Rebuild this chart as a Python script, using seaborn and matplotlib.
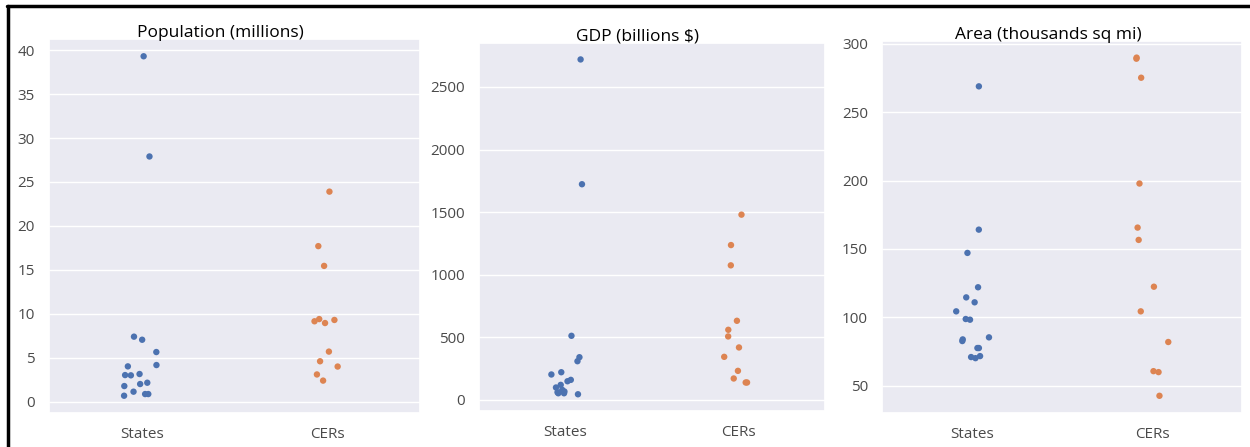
import numpy as np
import pandas as pd
import matplotlib
matplotlib.use("Agg")
import matplotlib.pyplot as plt
from matplotlib.lines import Line2D
import seaborn as sns

# Values per comparison group
groups = ["States", "CERs"]

pop_states = [39.3, 27.9, 7.4, 7.05, 5.65, 4.17, 4.02, 3.0, 3.03, 3.15,
              1.78, 2.01, 2.16, 1.14, 0.87, 0.87, 0.68]
pop_cers = [23.9, 17.7, 15.45, 9.4, 9.3, 8.95, 9.15, 5.7, 4.0, 4.6, 3.1, 2.4]

gdp_states = [2720, 1723, 512, 341, 309, 221, 203, 160, 149, 120,
              99, 80, 67, 61, 53, 53, 45]
gdp_cers = [1480, 1237, 1075, 632, 560, 507, 419, 344, 232, 171, 139, 139]

area_states = [268.8, 164.1, 147.1, 122.0, 114.6, 111.0, 98.8, 98.3, 104.4,
               83.9, 85.4, 82.7, 77.6, 77.6, 71.7, 71.0, 70.2]
area_cers = [289.0, 289.8, 275.1, 197.8, 165.6, 156.6, 122.4, 104.4,
             82.0, 60.0, 60.7, 42.7]

titles = ["Population (millions)", "GDP (billions $)", "Area (thousands sq mi)"]
series = [(pop_states, pop_cers), (gdp_states, gdp_cers), (area_states, area_cers)]

sns.set_theme(style="darkgrid")
plt.rcParams["font.family"] = ["Open Sans", "DejaVu Sans"]

W, H = 1250, 447
fig = plt.figure(figsize=(W / 100, H / 100), dpi=100)

# axes boxes in pixels: left, right, top, bottom
boxes = [(49, 420, 39.3, 412.7), (479, 825, 42.7, 411.0), (882, 1242, 40.7, 412.7)]

np.random.seed(3)
for (l, r, t, b), title, (s_vals, c_vals) in zip(boxes, titles, series):
    ax = fig.add_axes([l / W, (H - b) / H, (r - l) / W, (b - t) / H])
    df = pd.DataFrame({
        "group": [groups[0]] * len(s_vals) + [groups[1]] * len(c_vals),
        "value": list(s_vals) + list(c_vals),
    })
    sns.stripplot(data=df, x="group", y="value", hue="group", order=groups,
                  hue_order=groups, palette="deep", legend=False, size=4.6,
                  jitter=0.1, ax=ax)
    ax.set_xlabel("")
    ax.set_ylabel("")
    ax.grid(axis="y", color="white", linewidth=1.0)
    ax.set_title(title, fontsize=12.5, color="black", pad=1.5,
                 x=0.5 - 14 / (r - l))
    ax.tick_params(axis="both", labelsize=11, labelcolor="#4a4a4a", pad=4)

# screenshot frame along the top and left edges
fig.add_artist(Line2D([7 / W, 1.0], [1 - 5.5 / H, 1 - 5.5 / H],
                      transform=fig.transFigure, color="black", lw=2.5))
fig.add_artist(Line2D([7.5 / W, 7.5 / W], [0.0, 1 - 5.5 / H],
                      transform=fig.transFigure, color="black", lw=2.5))

fig.savefig("out.png", dpi=100)
